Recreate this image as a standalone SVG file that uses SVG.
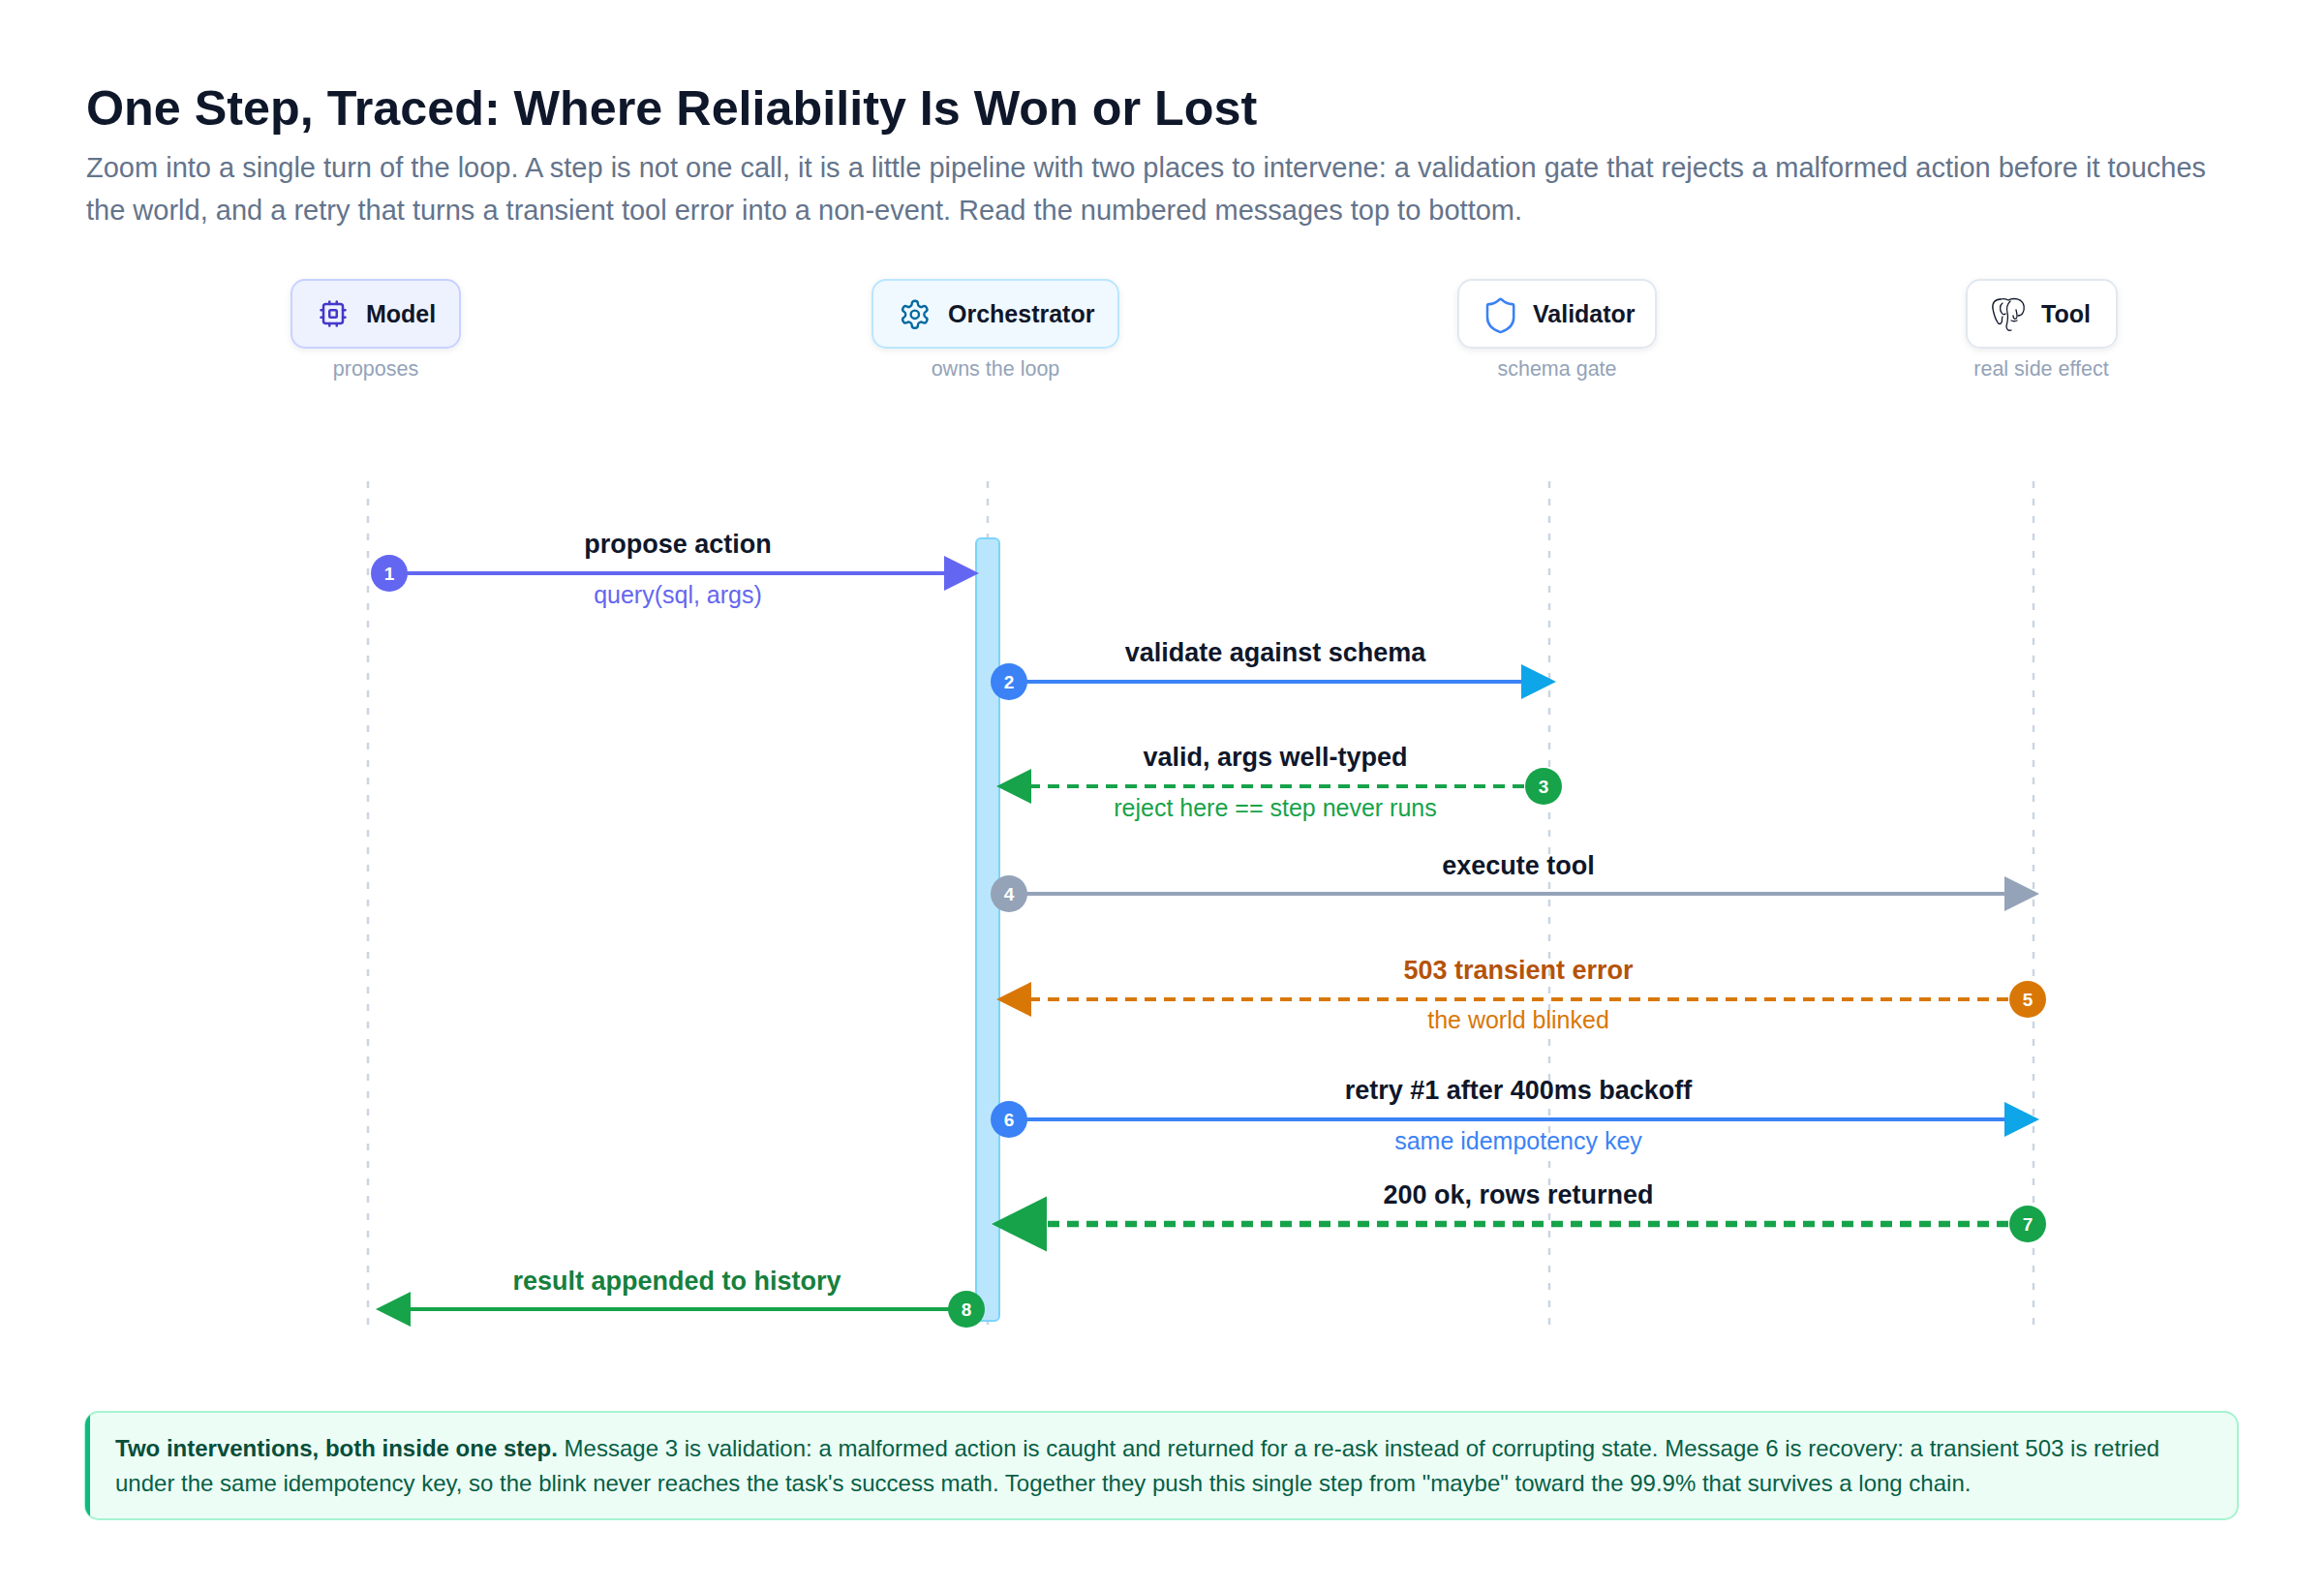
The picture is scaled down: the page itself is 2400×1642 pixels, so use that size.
<svg xmlns="http://www.w3.org/2000/svg" width="2400" height="1642" viewBox="0 0 2400 1642">
<defs>
<style>
.title{font-family:"Liberation Sans",Arial,sans-serif;font-weight:700;font-size:50.3px;fill:#0f172a}
.sub{font-family:"Liberation Sans",Arial,sans-serif;font-size:29px;fill:#64748b}
.nlabel{font-family:"Liberation Sans",Arial,sans-serif;font-weight:700;font-size:25px;fill:#0f172a}
.nsub{font-family:"Liberation Sans",Arial,sans-serif;font-size:21.5px;fill:#94a3b8;text-anchor:middle}
.life{stroke:#cbd5e1;stroke-width:2.5;stroke-dasharray:7 11;fill:none}
.mlabel{font-family:"Liberation Sans",Arial,sans-serif;font-weight:700;font-size:27px;fill:#0f172a;text-anchor:middle}
.msub{font-family:"Liberation Sans",Arial,sans-serif;font-size:25px;text-anchor:middle}
.num{font-family:"Liberation Sans",Arial,sans-serif;font-weight:700;font-size:19px;fill:#ffffff;text-anchor:middle}
.msg{fill:none;stroke-width:4}
.msg.thick{stroke-width:6.4}
.dash{stroke-dasharray:12 8}
.note{font-family:"Liberation Sans",Arial,sans-serif;font-size:24px;fill:#065f46}
.icon{fill:none;stroke-linecap:round;stroke-linejoin:round}
</style>
<filter id="shadow" x="-20%" y="-20%" width="140%" height="160%">
<feDropShadow dx="0" dy="2" stdDeviation="3" flood-color="#0f172a" flood-opacity="0.08"/>
</filter>
<marker id="ah-indigo" viewBox="0 0 9 9" refX="7.25" refY="4.5" markerWidth="9" markerHeight="9" markerUnits="strokeWidth" orient="auto"><path d="M0,0 L9,4.5 L0,9 z" fill="#6366f1"/></marker>
<marker id="ah-sky" viewBox="0 0 9 9" refX="7.25" refY="4.5" markerWidth="9" markerHeight="9" markerUnits="strokeWidth" orient="auto"><path d="M0,0 L9,4.5 L0,9 z" fill="#0ea5e9"/></marker>
<marker id="ah-gray" viewBox="0 0 9 9" refX="7.25" refY="4.5" markerWidth="9" markerHeight="9" markerUnits="strokeWidth" orient="auto"><path d="M0,0 L9,4.5 L0,9 z" fill="#94a3b8"/></marker>
<marker id="ah-amber" viewBox="0 0 9 9" refX="7.25" refY="4.5" markerWidth="9" markerHeight="9" markerUnits="strokeWidth" orient="auto"><path d="M0,0 L9,4.5 L0,9 z" fill="#d97706"/></marker>
<marker id="ah-green" viewBox="0 0 9 9" refX="7.25" refY="4.5" markerWidth="9" markerHeight="9" markerUnits="strokeWidth" orient="auto"><path d="M0,0 L9,4.5 L0,9 z" fill="#16a34a"/></marker>
<clipPath id="noteclip"><rect x="88" y="1458" width="2223" height="111" rx="14"/></clipPath>
</defs>
<rect width="2400" height="1642" fill="#ffffff"/>

<g id="header">
<text class="title" x="89" y="129">One Step, Traced: Where Reliability Is Won or Lost</text>
<text class="sub" x="89" y="183">Zoom into a single turn of the loop. A step is not one call, it is a little pipeline with two places to intervene: a validation gate that rejects a malformed action before it touches</text>
<text class="sub" x="89" y="227">the world, and a retry that turns a transient tool error into a non-event. Read the numbered messages top to bottom.</text>
</g>

<g id="lifelines">
<line class="life" x1="380" y1="497" x2="380" y2="1370"/>
<line class="life" x1="1020" y1="497" x2="1020" y2="1370"/>
<line class="life" x1="1600" y1="497" x2="1600" y2="1370"/>
<line class="life" x1="2100" y1="497" x2="2100" y2="1370"/>
</g>

<g id="node-model">
<rect x="301" y="289" width="174" height="70" rx="14" fill="#eef2ff" stroke="#c7d2fe" stroke-width="2" filter="url(#shadow)"/>
<g class="icon" stroke="#4338ca" stroke-width="2" transform="translate(329,309) scale(1.25)">
<rect x="4" y="4" width="16" height="16" rx="2"/>
<rect x="9" y="9" width="6" height="6" rx="1"/>
<path d="M15 2v2M15 20v2M2 15h2M2 9h2M20 15h2M20 9h2M9 2v2M9 20v2"/>
</g>
<text class="nlabel" x="378" y="333">Model</text>
<text class="nsub" x="388" y="388">proposes</text>
</g>

<g id="node-orchestrator">
<rect x="901" y="289" width="254" height="70" rx="14" fill="#f0f9ff" stroke="#bae6fd" stroke-width="2" filter="url(#shadow)"/>
<g class="icon" stroke="#0369a1" stroke-width="1.7" transform="translate(928,308) scale(1.4)">
<path d="M12.22 2h-.44a2 2 0 0 0-2 2v.18a2 2 0 0 1-1 1.73l-.43.25a2 2 0 0 1-2 0l-.15-.08a2 2 0 0 0-2.730.73l-.22.38a2 2 0 0 0 .73 2.730l.15.1a2 2 0 0 1 1 1.720v.51a2 2 0 0 1-1 1.740l-.15.09a2 2 0 0 0-.73 2.730l.22.38a2 2 0 0 0 2.730.73l.15-.08a2 2 0 0 1 2 0l.43.25a2 2 0 0 1 1 1.730V20a2 2 0 0 0 2 2h.44a2 2 0 0 0 2-2v-.18a2 2 0 0 1 1-1.730l.43-.25a2 2 0 0 1 2 0l.15.08a2 2 0 0 0 2.730-.73l.22-.39a2 2 0 0 0-.73-2.730l-.15-.08a2 2 0 0 1-1-1.740v-.5a2 2 0 0 1 1-1.740l.15-.09a2 2 0 0 0 .73-2.730l-.22-.38a2 2 0 0 0-2.730-.73l-.15.08a2 2 0 0 1-2 0l-.43-.25a2 2 0 0 1-1-1.730V4a2 2 0 0 0-2-2z"/>
<circle cx="12" cy="12" r="3"/>
</g>
<text class="nlabel" x="979" y="333">Orchestrator</text>
<text class="nsub" x="1028" y="388">owns the loop</text>
</g>

<g id="node-validator">
<rect x="1506" y="289" width="204" height="70" rx="14" fill="#ffffff" stroke="#e2e8f0" stroke-width="2" filter="url(#shadow)"/>
<g class="icon" stroke="#3b82f6" stroke-width="1.5" transform="translate(1529.2,305.6) scale(1.7)">
<path d="M20 13c0 5-3.5 7.5-7.66 8.95a1 1 0 0 1-.67-.01C7.5 20.5 4 18 4 13V6a1 1 0 0 1 1-1c2 0 4.5-1.2 6.24-2.72a1.170 1.170 0 0 1 1.520 0C14.51 3.810 17 5 19 5a1 1 0 0 1 1 1z"/>
</g>
<text class="nlabel" x="1583" y="333">Validator</text>
<text class="nsub" x="1608" y="388">schema gate</text>
</g>

<g id="node-tool">
<rect x="2031" y="289" width="155" height="70" rx="14" fill="#ffffff" stroke="#e2e8f0" stroke-width="2" filter="url(#shadow)"/>
<g class="icon" stroke="#0f172a" stroke-width="1.3" transform="translate(2056,307)">
<path d="M10 2C4 2 1 6 2 12C3 17 5 23 7 26C8 28 10 28 11 26C12 24 11 22 12 20"/>
<path d="M10 2C13 1 16 2 18 3C21 1 27 1 30 3"/>
<path d="M30 3C35 6 35 12 33 16C32 18 30 19 28 19"/>
<path d="M20 4C17 7 16 12 17 16C18 20 17 26 16 30C16 33 18 35 21 34"/>
<path d="M26 13C27 17 28 21 26 22C24 23 23 21 23 19"/>
<path d="M12 6C9 8 9 13 11 16C12 18 14 18 15 17"/>
<path d="M21 24C23 25 25 25 27 24"/>
</g>
<text class="nlabel" x="2108" y="333">Tool</text>
<text class="nsub" x="2108" y="388">real side effect</text>
</g>

<g id="activation">
<rect x="1008" y="556" width="24" height="808" rx="5" fill="#bae6fd" stroke="#7dd3fc" stroke-width="2"/>
</g>

<g id="connectors">
<line class="msg" x1="402" y1="592" x2="1004" y2="592" stroke="#6366f1" marker-end="url(#ah-indigo)"/>
<line class="msg" x1="1042" y1="704" x2="1600" y2="704" stroke="#3b82f6" marker-end="url(#ah-sky)"/>
<line class="msg dash" x1="1594" y1="812" x2="1036" y2="812" stroke="#16a34a" marker-end="url(#ah-green)"/>
<line class="msg" x1="1042" y1="923" x2="2099" y2="923" stroke="#94a3b8" marker-end="url(#ah-gray)"/>
<line class="msg dash" x1="2094" y1="1032" x2="1036" y2="1032" stroke="#d97706" marker-end="url(#ah-amber)"/>
<line class="msg" x1="1042" y1="1156" x2="2099" y2="1156" stroke="#3b82f6" marker-end="url(#ah-sky)"/>
<line class="msg thick dash" x1="2094" y1="1264" x2="1035" y2="1264" stroke="#16a34a" marker-end="url(#ah-green)"/>
<line class="msg" x1="998" y1="1352" x2="395" y2="1352" stroke="#16a34a" marker-end="url(#ah-green)"/>
</g>

<g id="messages">
<g id="msg1">
<circle cx="402" cy="592" r="19" fill="#6366f1"/><text class="num" x="402" y="599">1</text>
<text class="mlabel" x="700" y="571">propose action</text>
<text class="msub" x="700" y="623" fill="#6366f1">query(sql, args)</text>
</g>
<g id="msg2">
<circle cx="1042" cy="704" r="19" fill="#3b82f6"/><text class="num" x="1042" y="711">2</text>
<text class="mlabel" x="1317" y="683">validate against schema</text>
</g>
<g id="msg3">
<circle cx="1594" cy="812" r="19" fill="#16a34a"/><text class="num" x="1594" y="819">3</text>
<text class="mlabel" x="1317" y="791">valid, args well-typed</text>
<text class="msub" x="1317" y="843" fill="#16a34a">reject here == step never runs</text>
</g>
<g id="msg4">
<circle cx="1042" cy="923" r="19" fill="#94a3b8"/><text class="num" x="1042" y="930">4</text>
<text class="mlabel" x="1568" y="903">execute tool</text>
</g>
<g id="msg5">
<circle cx="2094" cy="1032" r="19" fill="#d97706"/><text class="num" x="2094" y="1039">5</text>
<text class="mlabel" x="1568" y="1011" style="fill:#b45309">503 transient error</text>
<text class="msub" x="1568" y="1062" fill="#d97706">the world blinked</text>
</g>
<g id="msg6">
<circle cx="1042" cy="1156" r="19" fill="#3b82f6"/><text class="num" x="1042" y="1163">6</text>
<text class="mlabel" x="1568" y="1135">retry #1 after 400ms backoff</text>
<text class="msub" x="1568" y="1187" fill="#3b82f6">same idempotency key</text>
</g>
<g id="msg7">
<circle cx="2094" cy="1264" r="19" fill="#16a34a"/><text class="num" x="2094" y="1271">7</text>
<text class="mlabel" x="1568" y="1243">200 ok, rows returned</text>
</g>
<g id="msg8">
<circle cx="998" cy="1352" r="19" fill="#16a34a"/><text class="num" x="998" y="1359">8</text>
<text class="mlabel" x="699" y="1332" style="fill:#15803d">result appended to history</text>
</g>
</g>

<g id="note">
<rect x="88" y="1458" width="2223" height="111" rx="14" fill="#ecfdf5" stroke="#a7f3d0" stroke-width="2"/>
<rect x="88" y="1458" width="5" height="111" fill="#10b981" clip-path="url(#noteclip)"/>
<text class="note" x="119" y="1504"><tspan font-weight="700" fill="#064e3b">Two interventions, both inside one step.</tspan> Message 3 is validation: a malformed action is caught and returned for a re-ask instead of corrupting state. Message 6 is recovery: a transient 503 is retried</text>
<text class="note" x="119" y="1540">under the same idempotency key, so the blink never reaches the task's success math. Together they push this single step from "maybe" toward the 99.9% that survives a long chain.</text>
</g>
</svg>
